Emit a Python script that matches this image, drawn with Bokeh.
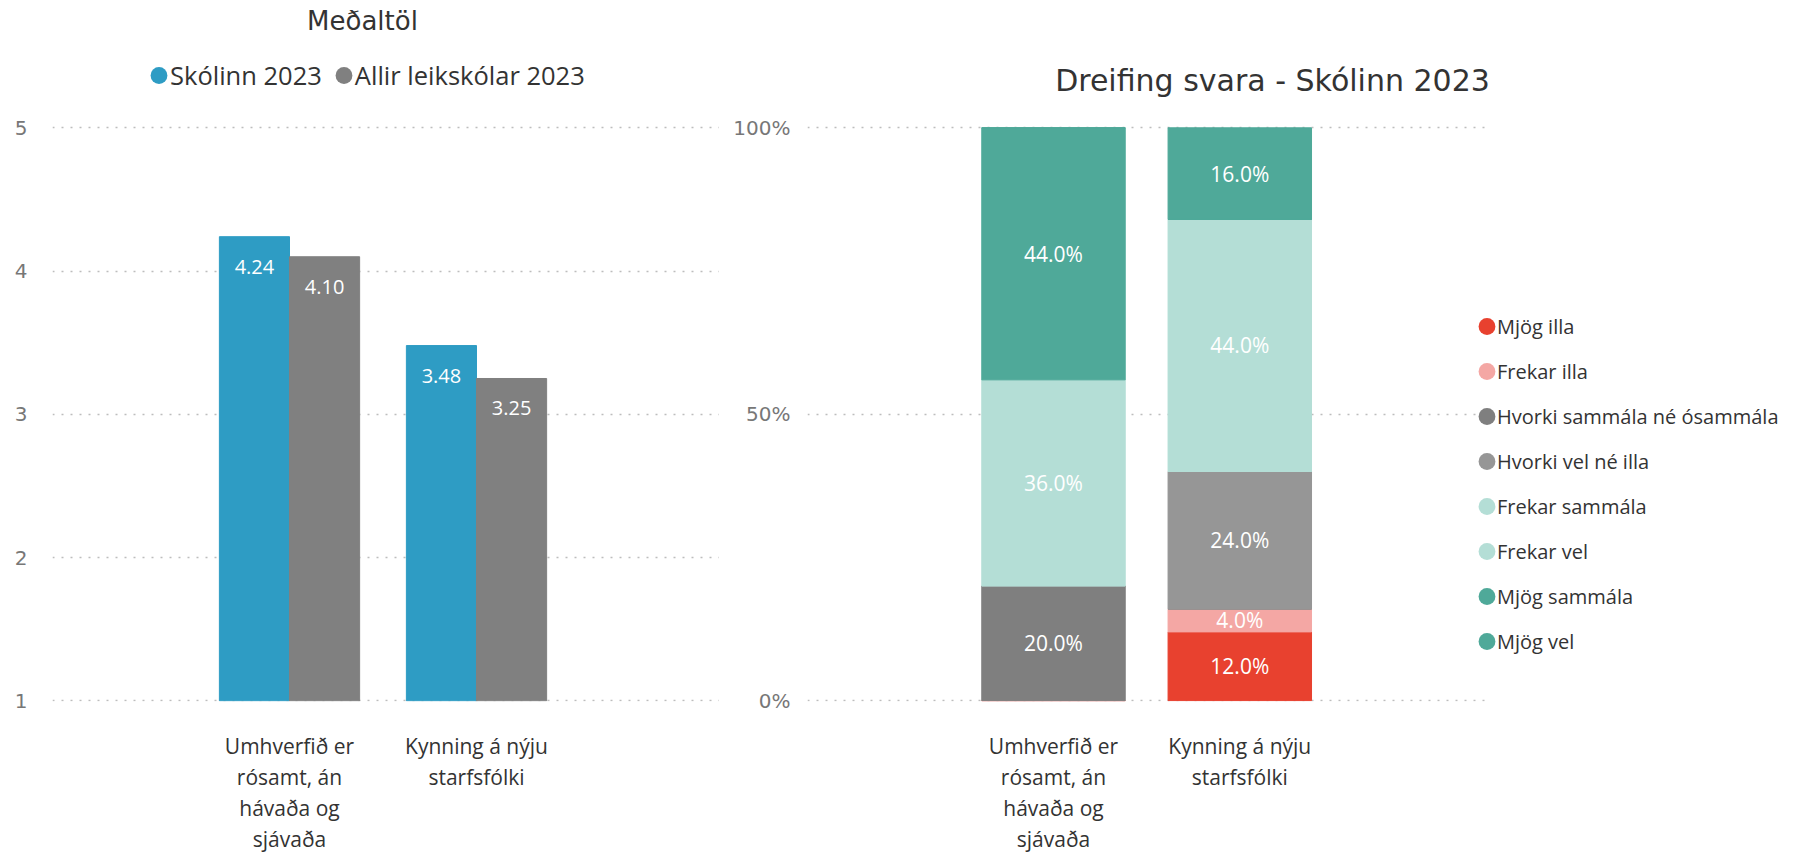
from bokeh.plotting import figure
from bokeh.models import (Legend, LegendItem, ColumnDataSource, FixedTicker,
                          Range1d, Label, Grid)
from bokeh.layouts import row
from bokeh.transform import dodge
from bokeh.embed import file_html
from bokeh.resources import INLINE
from bokeh.core.properties import value

# ---------------- data ----------------
categories = ["Umhverfið er\nrósamt, án\nhávaða og\nsjávaða", "Kynning á nýju\nstarfsfólki"]

series_names = ["Skólinn 2023", "Allir leikskólar 2023"]
skolinn_2023 = [4.24, 3.48]
allir_leikskolar_2023 = [4.10, 3.25]

dist_labels = ["Mjög illa", "Frekar illa", "Hvorki sammála né ósammála", "Hvorki vel né illa",
               "Frekar sammála", "Frekar vel", "Mjög sammála", "Mjög vel"]
mjog_illa = [0.0, 12.0]
frekar_illa = [0.0, 4.0]
hvorki_sammala = [20.0, 0.0]
hvorki_vel = [0.0, 24.0]
frekar_sammala = [36.0, 0.0]
frekar_vel = [0.0, 44.0]
mjog_sammala = [44.0, 0.0]
mjog_vel = [0.0, 16.0]
dist_values = [mjog_illa, frekar_illa, hvorki_sammala, hvorki_vel,
               frekar_sammala, frekar_vel, mjog_sammala, mjog_vel]

left_ticks = [1, 2, 3, 4, 5]
right_ticks = [0, 50, 100]
right_tick_labels = ["0%", "50%", "100%"]

left_title = "Meðaltöl"
right_title = "Dreifing svara - Skólinn 2023"

# ---------------- styles / layout ----------------
BLUE = "#2E9CC4"
GREY = "#808080"
dist_colors = ["#E8412F", "#F4A7A4", "#7F7F7F", "#969696",
               "#B4DED6", "#B4DED6", "#4FA999", "#4FA999"]
TITLE_FONT = "DejaVu Sans"
BODY_FONT = "Open Sans"
TICK_FONT = "DejaVu Sans"
GRID = "#bdbdbd"

H = 856              # canvas height
FRAME_BOTTOM = 704   # page y of the value-axis minimum
FRAME_TOP_VAL = 128  # page y of the value-axis maximum
W1 = 719
HAS_CROSS = "cross_bounds" in Grid.properties()

positions = list(range(len(categories)))


def style_common(p):
    p.outline_line_color = None
    p.xgrid.grid_line_color = None
    p.ygrid.grid_line_color = GRID
    p.ygrid.grid_line_dash = "2 7"
    p.ygrid.grid_line_width = 1.5
    for ax in (p.xaxis, p.yaxis):
        ax.axis_line_color = None
        ax.major_tick_line_color = None
        ax.minor_tick_line_color = None
    p.yaxis.major_label_text_font = TICK_FONT
    p.yaxis.major_label_text_font_size = "20px"
    p.yaxis.major_label_text_color = "#777777"
    p.xaxis.ticker = FixedTicker(ticks=positions)
    p.xaxis.major_label_overrides = {i: c for i, c in zip(positions, categories)}
    p.xaxis.major_label_text_font = BODY_FONT
    p.xaxis.major_label_text_font_size = "21px"
    p.xaxis.major_label_text_color = "#333333"
    p.xaxis.major_label_text_line_height = 1.115
    p.xaxis.major_label_standoff = 24


def legend_marker(p, x, y, src, color):
    # tiny (invisible) marks whose legend glyph is a filled circle
    return p.ellipse(x=x, y=y, source=src, width=0.001, height=0.001,
                     width_units="screen", height_units="screen",
                     fill_color=color, line_color=None)


# ---------------- left chart ----------------
src1 = ColumnDataSource(dict(
    xi=positions,
    s1=skolinn_2023,
    s2=allir_leikskolar_2023,
    s1_lbl=[f"{v:.2f}" for v in skolinn_2023],
    s2_lbl=[f"{v:.2f}" for v in allir_leikskolar_2023],
))

ppu1 = (FRAME_BOTTOM - FRAME_TOP_VAL) / (left_ticks[-1] - left_ticks[0])
xppu1 = 187.0
x1_start = -(289 - 52) / xppu1
x1_end = x1_start + (W1 - 52) / xppu1
p1 = figure(x_range=Range1d(x1_start, x1_end),
            y_range=Range1d(left_ticks[0] - 0.005, left_ticks[-1] + FRAME_TOP_VAL / ppu1),
            width=W1, height=H, output_backend="svg", toolbar_location=None,
            min_border_left=52, min_border_right=0,
            min_border_top=0, min_border_bottom=H - FRAME_BOTTOM)
style_common(p1)
p1.yaxis.ticker = FixedTicker(ticks=left_ticks)
p1.ygrid.ticker = FixedTicker(ticks=left_ticks)
p1.yaxis.major_label_standoff = 19

BW = 0.375
p1.vbar(x=dodge("xi", -BW / 2), top="s1", bottom=left_ticks[0], width=BW,
        color=BLUE, source=src1)
p1.vbar(x=dodge("xi", BW / 2), top="s2", bottom=left_ticks[0], width=BW,
        color=GREY, source=src1)
for col, off in (("s1", -BW / 2), ("s2", BW / 2)):
    p1.text(x=dodge("xi", off), y=col, text=col + "_lbl",
            source=src1, text_align="center", text_baseline="middle",
            y_offset=30, text_color="white", text_font=value(BODY_FONT),
            text_font_size="20px")

m1 = legend_marker(p1, dodge("xi", -BW / 2), "s1", src1, BLUE)
m2 = legend_marker(p1, dodge("xi", BW / 2), "s2", src1, GREY)
leg1 = Legend(items=[LegendItem(label=series_names[0], renderers=[m1]),
                     LegendItem(label=series_names[1], renderers=[m2])],
              orientation="horizontal", location=(96, FRAME_BOTTOM - 95),
              glyph_width=21, glyph_height=30, label_height=30,
              label_standoff=1, spacing=11,
              padding=0, margin=0, border_line_color=None,
              background_fill_alpha=0,
              label_text_font=BODY_FONT, label_text_font_size="25.5px",
              label_text_color="#333333")
p1.add_layout(leg1)

p1.add_layout(Label(x=x1_start + (362 - 52) / xppu1,
                    y=left_ticks[-1] + (FRAME_TOP_VAL - 21) / ppu1,
                    text=left_title, text_align="center", text_baseline="middle",
                    text_font=TITLE_FONT, text_font_size="26px", text_color="#333333"))

# ---------------- right chart ----------------
keys = [f"k{i}" for i in range(len(dist_labels))]
data2 = dict(xi=positions)
for k, vals in zip(keys, dist_values):
    data2[k] = vals
src2 = ColumnDataSource(data2)

F2_LEFT = 807
GRID_END = 1488 if HAS_CROSS else 1476
W2 = (1795 - W1) if HAS_CROSS else (GRID_END - W1)
ppu2 = (FRAME_BOTTOM - FRAME_TOP_VAL) / (right_ticks[-1] - right_ticks[0])
xppu2 = 186.3
x2_start = -(1053 - F2_LEFT) / xppu2
x2_end = x2_start + (W1 + W2 - F2_LEFT) / xppu2
p2 = figure(x_range=Range1d(x2_start, x2_end),
            y_range=Range1d(-0.15, right_ticks[-1] + FRAME_TOP_VAL / ppu2),
            width=W2, height=H, output_backend="svg", toolbar_location=None,
            min_border_left=F2_LEFT - W1, min_border_right=0,
            min_border_top=0, min_border_bottom=H - FRAME_BOTTOM)
style_common(p2)
p2.yaxis.ticker = FixedTicker(ticks=right_ticks)
p2.ygrid.ticker = FixedTicker(ticks=right_ticks)
p2.yaxis.major_label_overrides = {t: l for t, l in zip(right_ticks, right_tick_labels)}
p2.yaxis.major_label_standoff = 11
if HAS_CROSS:
    p2.ygrid[0].cross_bounds = (x2_start, x2_start + (GRID_END - F2_LEFT) / xppu2)

p2.vbar_stack(keys, x="xi", width=0.77, color=dist_colors, source=src2)

lx, ly, lt = [], [], []
for j in positions:
    base = 0.0
    for vals in dist_values:
        v = vals[j]
        if v > 0:
            lx.append(j)
            ly.append(base + v / 2)
            lt.append(f"{v:.1f}%")
        base += v
p2.text(x=lx, y=ly, text=lt, text_align="center", text_baseline="middle",
        text_color="white", text_font=value(BODY_FONT), text_font_size="21px")

title_cx = 1272 if HAS_CROSS else 1262
p2.add_layout(Label(x=x2_start + (title_cx - F2_LEFT) / xppu2,
                    y=right_ticks[-1] + (FRAME_TOP_VAL - 80) / ppu2,
                    text=right_title, text_align="center", text_baseline="middle",
                    text_font=TITLE_FONT, text_font_size="30px", text_color="#333333"))

# ---------------- legend of the right chart ----------------
if HAS_CROSS:
    lp, lx0 = p2, 1476 - F2_LEFT
    plots = [p1, p2]
else:
    p3 = figure(x_range=Range1d(0, 1), y_range=Range1d(0, 100),
                width=1795 - W1 - W2, height=H, output_backend="svg", toolbar_location=None,
                x_axis_location=None, y_axis_location=None,
                min_border_left=0, min_border_right=0, min_border_top=0,
                min_border_bottom=H - FRAME_BOTTOM)
    p3.outline_line_color = None
    p3.grid.visible = False
    lp, lx0 = p3, 0
    plots = [p1, p2, p3]

items = []
for lab, k, col in zip(dist_labels, keys, dist_colors):
    r = legend_marker(lp, "xi", k, src2, col)
    items.append(LegendItem(label=lab, renderers=[r]))
leg2 = Legend(items=items, orientation="vertical", location=(lx0, 45),
              glyph_width=21, glyph_height=30, label_height=30,
              label_standoff=0, spacing=15,
              padding=0, margin=0, border_line_color=None,
              background_fill_alpha=0,
              label_text_font=BODY_FONT, label_text_font_size="20px",
              label_text_color="#333333")
lp.add_layout(leg2)

layout = row(*plots, spacing=0)
open("out.html", "w").write(file_html(layout, INLINE))
